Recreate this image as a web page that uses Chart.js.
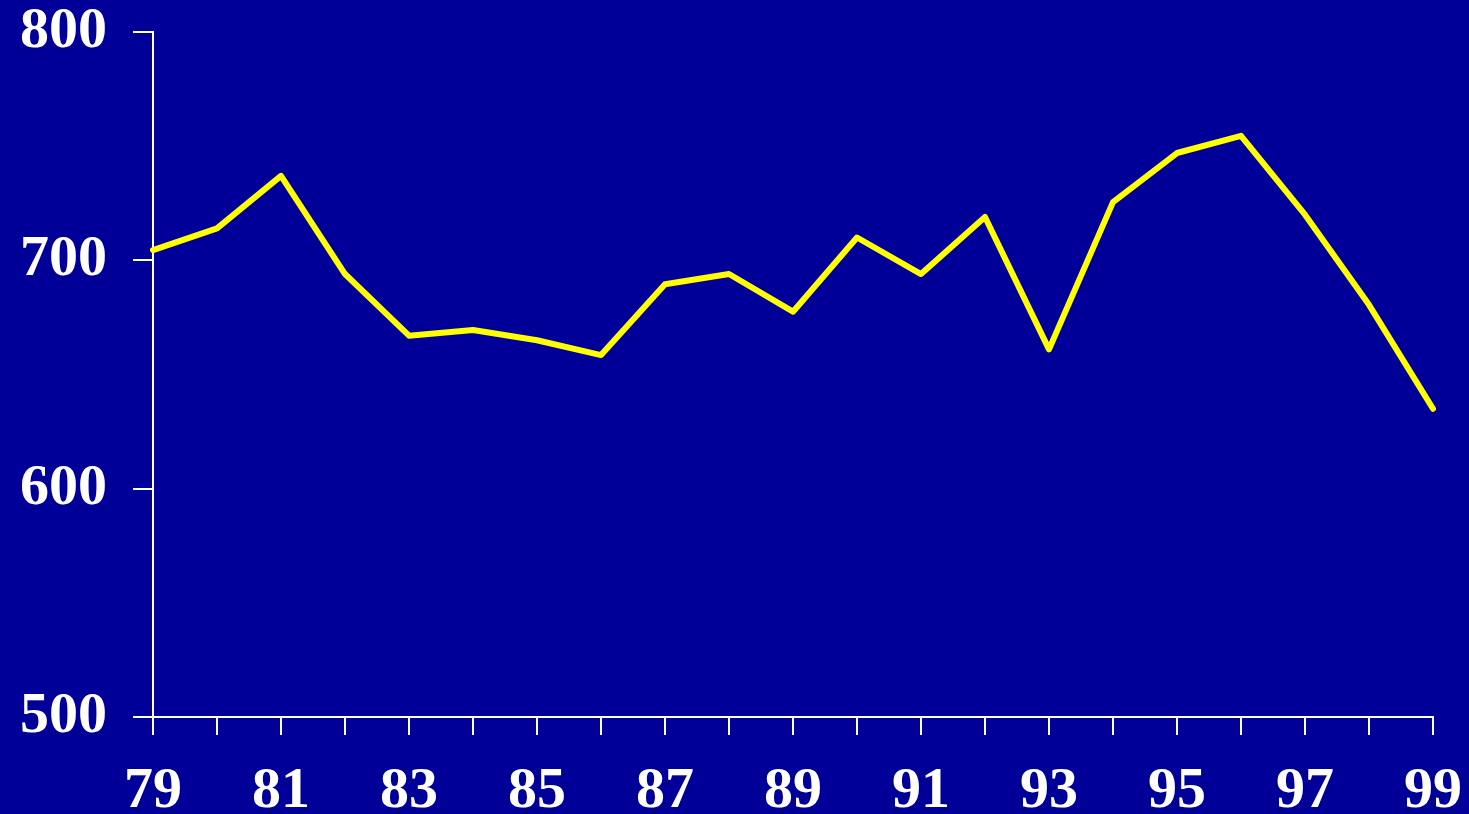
<!DOCTYPE html>
<html>
<head>
<meta charset="utf-8">
<script src="https://cdn.jsdelivr.net/npm/chart.js@4/dist/chart.umd.min.js"></script>
<style>
  html, body { margin: 0; padding: 0; background: #000099; }
  #wrap { width: 1469px; height: 814px; position: relative; }
</style>
</head>
<body>
<div id="wrap"><canvas id="c" width="1469" height="814"></canvas></div>
<script>
const years = ['79','80','81','82','83','84','85','86','87','88','89','90','91','92','93','94','95','96','97','98','99'];
const values = [704.5, 714, 737, 694, 667, 669.5, 665, 658.5, 689.5, 694, 677.5, 710, 694, 719, 661, 725.5, 747, 754.5, 720, 680.5, 635];
const yTicks = [500, 600, 700, 800];

const fontSpec = { family: '"Liberation Serif", "Times New Roman", serif', size: 58, weight: 'bold' };

new Chart(document.getElementById('c'), {
  type: 'line',
  data: {
    labels: years,
    datasets: [{
      data: values,
      borderColor: '#ffff00',
      borderWidth: 6,
      pointRadius: 0,
      tension: 0,
      fill: false,
      borderCapStyle: 'round',
      borderJoinStyle: 'round'
    }]
  },
  options: {
    responsive: false,
    animation: false,
    layout: { padding: { top: 32, right: 36, left: 0, bottom: 0 } },
    plugins: { legend: { display: false }, tooltip: { enabled: false } },
    scales: {
      x: {
        type: 'category',
        offset: false,
        grid: { display: true, drawOnChartArea: false, drawTicks: true, tickLength: 18, color: '#ffffff', lineWidth: 2 },
        border: { display: true, color: '#ffffff', width: 2 },
        ticks: {
          color: '#ffffff',
          font: fontSpec,
          autoSkip: false,
          maxRotation: 0,
          minRotation: 0,
          padding: 22,
          callback: function(v, i) { return i % 2 === 0 ? years[i] : ''; }
        },
        afterFit: function(s) { s.height = 97; s.paddingLeft = 0; s.paddingRight = 0; }
      },
      y: {
        min: yTicks[0],
        max: yTicks[yTicks.length - 1],
        afterBuildTicks: function(s) { s.ticks = yTicks.map(v => ({ value: v })); },
        grid: { display: true, drawOnChartArea: false, drawTicks: true, tickLength: 20, color: '#ffffff', lineWidth: 2 },
        border: { display: true, color: '#ffffff', width: 2 },
        ticks: { color: '#ffffff', font: fontSpec, padding: 26 },
        afterFit: function(s) { s.width = 153; s.paddingTop = 0; s.paddingBottom = 0; }
      }
    }
  }
});
</script>
</body>
</html>
